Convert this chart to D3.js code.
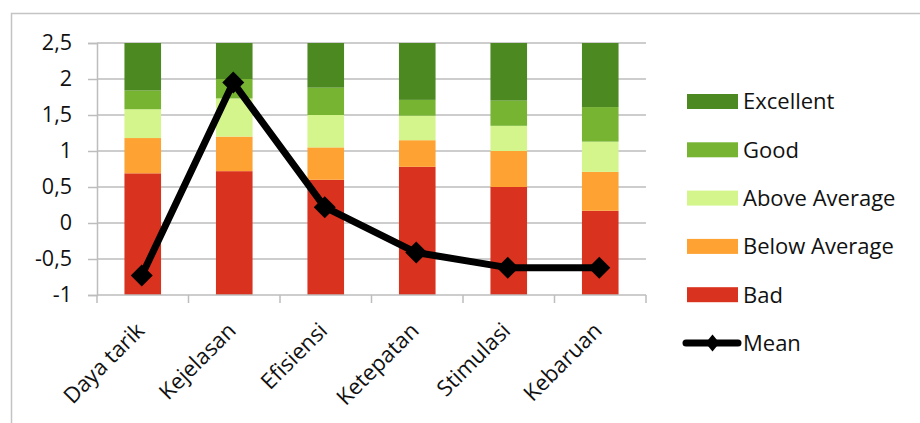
<!DOCTYPE html>
<html>
<head>
<meta charset="utf-8">
<script src="https://cdn.jsdelivr.net/npm/d3@7"></script>
<style>
  body { margin: 0; background: #fff; }
  .chart text { font-family: "Open Sans", sans-serif; fill: #111; }
</style>
</head>
<body>
<div class="chart"></div>
<script>
const categories = ["Daya tarik", "Kejelasan", "Efisiensi", "Ketepatan", "Stimulasi", "Kebaruan"];

// benchmark band heights, stacked up from -1
const bad = [1.69, 1.72, 1.60, 1.78, 1.50, 1.17];
const belowAverage = [0.49, 0.48, 0.45, 0.37, 0.50, 0.54];
const aboveAverage = [0.40, 0.53, 0.45, 0.34, 0.35, 0.42];
const good = [0.26, 0.27, 0.38, 0.22, 0.35, 0.48];
const excellent = [0.66, 0.50, 0.62, 0.80, 0.80, 0.90];

const mean = [-0.73, 1.95, 0.22, -0.41, -0.62, -0.62];

const yTicks = [-1, -0.5, 0, 0.5, 1, 1.5, 2, 2.5];

const seriesNames = ["Bad", "Below Average", "Above Average", "Good", "Excellent"];
const seriesValues = [bad, belowAverage, aboveAverage, good, excellent];
const colors = ["#d9321f", "#fda233", "#d4f58b", "#76b431", "#4c8a21"];

const width = 920, height = 423;
const margin = ({ top: 43, right: 274, bottom: 128, left: 97 });
const base = -1;

const rows = categories.map((c, i) => {
  const r = { name: c };
  seriesNames.forEach((s, k) => r[s] = seriesValues[k][i]);
  return r;
});

//stack from the -1 baseline
const stack = d3.stack().keys(seriesNames)
  .offset((series, order) => {
    d3.stackOffsetNone(series, order);
    series.forEach(s => s.forEach(d => { d[0] += base; d[1] += base; }));
  });
const stacked = stack(rows);

//scales
const x = d3.scaleBand()
  .domain(categories)
  .range([margin.left, width - margin.right])
  .paddingInner(0.6)
  .paddingOuter(0.3);

const y = d3.scaleLinear()
  .domain([-1, 2.5])
  .range([height - margin.bottom, margin.top]);

const fmt = v => d3.format("~g")(v).replace(".", ",").replace("−", "-");

const svg = d3.select(".chart").append("svg")
  .attr("width", width)
  .attr("height", height)
  .attr("viewBox", `0 0 ${width} ${height}`);

//chart frame
svg.append("path")
  .attr("d", `M11.5,${height} V13.5 H${width}`)
  .attr("fill", "none")
  .attr("stroke", "#c4c4c4")
  .attr("stroke-width", 1.5);

//gridlines + y axis
svg.append("g")
  .attr("transform", `translate(${margin.left},0)`)
  .call(d3.axisLeft(y).tickValues(yTicks).tickSize(9).tickPadding(16).tickFormat(fmt))
  .call(g => g.selectAll(".tick line").attr("stroke", "#bdbdbd").attr("stroke-width", 1.5))
  .call(g => g.select(".domain").attr("stroke", "#bdbdbd").attr("stroke-width", 1.5))
  .call(g => g.selectAll(".tick text").attr("font-size", 21.5).attr("fill", "#111"));

svg.append("g")
  .selectAll("line")
  .data(yTicks.slice(1))
  .join("line")
  .attr("x1", margin.left)
  .attr("x2", width - margin.right)
  .attr("y1", d => y(d))
  .attr("y2", d => y(d))
  .attr("stroke", "#bdbdbd")
  .attr("stroke-width", 1.5);

//bars
svg.append("g")
  .selectAll("g")
  .data(stacked)
  .join("g")
  .attr("fill", (d, i) => colors[i])
  .selectAll("rect")
  .data(d => d)
  .join("rect")
  .attr("x", d => x(d.data.name))
  .attr("width", x.bandwidth())
  .attr("y", d => y(Math.min(d[1], 2.5)))
  .attr("height", d => y(d[0]) - y(Math.min(d[1], 2.5)));

//x axis
const bounds = d3.range(categories.length + 1).map(i => margin.left + i * x.step());
const xAxis = svg.append("g");
xAxis.append("line")
  .attr("x1", margin.left).attr("x2", width - margin.right)
  .attr("y1", y(-1)).attr("y2", y(-1))
  .attr("stroke", "#bdbdbd").attr("stroke-width", 1.5);
xAxis.selectAll(".xtick")
  .data(bounds)
  .join("line")
  .attr("class", "xtick")
  .attr("x1", d => d).attr("x2", d => d)
  .attr("y1", y(-1)).attr("y2", y(-1) + 8)
  .attr("stroke", "#bdbdbd").attr("stroke-width", 1.5);

xAxis.selectAll("text")
  .data(categories)
  .join("text")
  .attr("transform", d => `translate(${x(d) + x.bandwidth() / 2 + 3},${y(-1) + 37}) rotate(-45)`)
  .attr("text-anchor", "end")
  .attr("font-size", 22)
  .text(d => d);

//mean line
const line = d3.line()
  .x((d, i) => x(categories[i]) + x.bandwidth() / 2 - 1)
  .y(d => y(d));

svg.append("path")
  .datum(mean)
  .attr("fill", "none")
  .attr("stroke", "#000")
  .attr("stroke-width", 7)
  .attr("stroke-linejoin", "round")
  .attr("d", line);

const diamond = (rx, ry) => `M0,${-ry}L${rx},0L0,${ry}L${-rx},0Z`;

svg.append("g")
  .selectAll("path")
  .data(mean)
  .join("path")
  .attr("transform", (d, i) => `translate(${x(categories[i]) + x.bandwidth() / 2 - 1},${y(d)})`)
  .attr("d", diamond(11, 11))
  .attr("fill", "#000");

//legend
const legend = svg.append("g");
const legendItems = seriesNames.slice().reverse();
const rowY = i => 101.5 + i * 48.3;

legend.selectAll("rect")
  .data(legendItems)
  .join("rect")
  .attr("x", 687)
  .attr("y", (d, i) => rowY(i) - 7.5)
  .attr("width", 51)
  .attr("height", 15)
  .attr("fill", d => colors[seriesNames.indexOf(d)]);

legend.selectAll("text")
  .data(legendItems.concat(["Mean"]))
  .join("text")
  .attr("x", 743)
  .attr("y", (d, i) => rowY(i))
  .attr("dy", "0.36em")
  .attr("font-size", 22)
  .text(d => d);

const my = rowY(5);
legend.append("line")
  .attr("x1", 686).attr("x2", 738)
  .attr("y1", my).attr("y2", my)
  .attr("stroke", "#000")
  .attr("stroke-width", 7)
  .attr("stroke-linecap", "round");
legend.append("path")
  .attr("transform", `translate(712.5,${my})`)
  .attr("d", diamond(7, 8.5))
  .attr("fill", "#000");
</script>
</body>
</html>
